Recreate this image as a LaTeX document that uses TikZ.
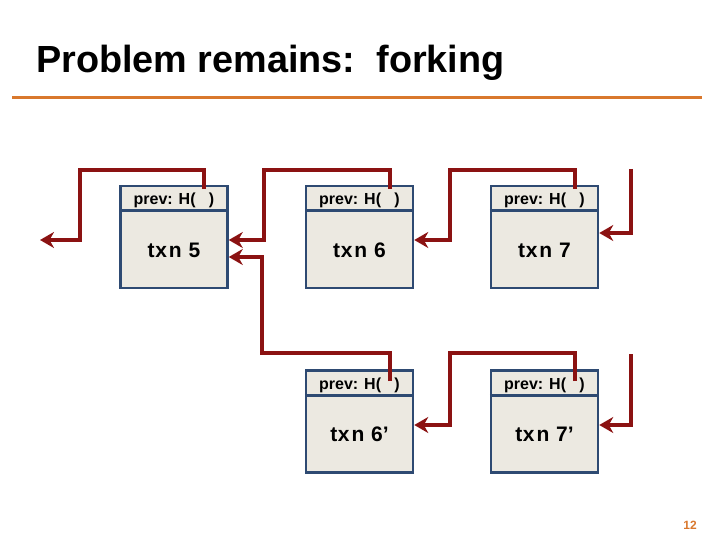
\documentclass[tikz,border=0pt]{standalone}
\usepackage{fontspec}
\setmainfont{Liberation Sans}
\usetikzlibrary{arrows.meta}
\definecolor{boxfill}{HTML}{ECE9E1}
\definecolor{boxdraw}{HTML}{2E4A72}
\definecolor{arrred}{HTML}{8B1212}
\definecolor{accent}{HTML}{D9782D}
\newcommand{\txn}{t\kern0.6pt x\kern2pt n\kern1pt\ }
\tikzset{
  txbox/.style={draw=boxdraw, line width=2.5pt, fill=boxfill, minimum width=107pt, minimum height=102pt, inner sep=0pt},
  hdr/.style={font=\fontsize{16}{18}\selectfont\bfseries, inner sep=0pt, anchor=base},
  body/.style={font=\fontsize{21}{24}\selectfont\bfseries, inner sep=0pt, anchor=base},
  link/.style={draw=arrred, line width=4pt, -{Stealth[length=14pt,width=16pt,inset=4.5pt]}},
}
\begin{document}
\begin{tikzpicture}[x=1pt,y=-1pt]
\useasboundingbox (0,0) rectangle (720,540);
% title
\node[anchor=base west, inner sep=0pt, font=\fontsize{37.8}{40}\selectfont\bfseries] (title) at (36,73) {Problem remains:\ \ forking};
\draw[accent, line width=3pt] (12,98) -- (702,98);
% boxes
\foreach \n/\x/\y in {b5/174/237, b6/359.5/237, b7/544.5/237, b6p/359.5/421.5, b7p/544.5/421.5}{
  \node[txbox] (\n) at (\x,\y) {};
  \draw[boxdraw, line width=2.5pt] ([yshift=-26pt]\n.north west) -- ([yshift=-26pt]\n.north east);
  \node[hdr] (\n h) at ([yshift=-20pt]\n.north) {prev: H(\ \ \ )};
}
\node[body] (t5) at ([yshift=-20pt]b5.center) {\txn 5};
\node[body] (t6) at ([yshift=-20pt]b6.center) {\txn 6};
\node[body] (t7) at ([yshift=-20pt]b7.center) {\txn 7};
\node[body] (t6p) at ([yshift=-20pt]b6p.center) {\txn 6’};
\node[body] (t7p) at ([yshift=-20pt]b7p.center) {\txn 7’};
% connector anchors
\coordinate (p5) at (204,189);
\coordinate (p6) at (390,189);
\coordinate (p7) at (575,189);
\coordinate (p6p) at (390,381);
\coordinate (p7p) at (575,381);
\coordinate (in1) at (631,169);
\coordinate (in2) at (631,354);
\coordinate (out) at (40,240);
% connectors
\path[link] (p5) -- (204,170) -- (80,170) -- (80,240) -- (out);
\path[link] (p6) -- (390,170) -- (264,170) -- (264,240) -- (b5.east |- 0,240);
\path[link] (p6p) -- (390,353) -- (262,353) -- (262,257) -- (b5.east |- 0,257);
\path[link] (p7) -- (575,170) -- (450,170) -- (450,240) -- (b6.east |- 0,240);
\path[link] (in1) -- (631,233) -- (b7.east |- 0,233);
\path[link] (p7p) -- (575,353) -- (450,353) -- (450,425) -- (b6p.east |- 0,425);
\path[link] (in2) -- (631,425) -- (b7p.east |- 0,425);
% page number
\node[anchor=base, inner sep=0pt, text=accent, font=\fontsize{12}{14}\selectfont\bfseries] (pg) at (690,529) {12};
\end{tikzpicture}
\end{document}
